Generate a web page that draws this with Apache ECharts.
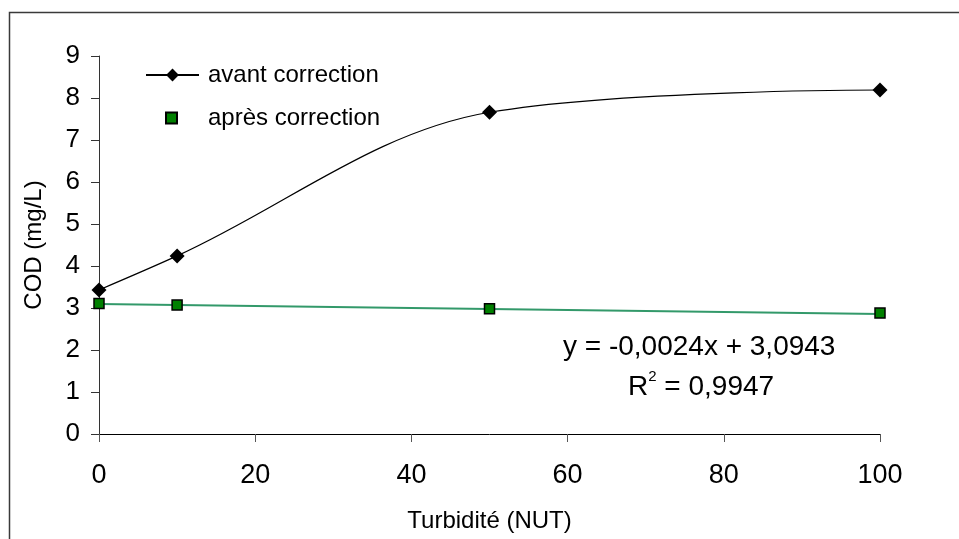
<!DOCTYPE html>
<html>
<head>
<meta charset="utf-8">
<script src="https://cdn.jsdelivr.net/npm/echarts@6/dist/echarts.min.js"></script>
<style>
  html, body { margin: 0; padding: 0; background: #fff; }
  #chart { width: 959px; height: 539px; }
</style>
</head>
<body>
<div id="chart"></div>
<script>
// Turbidity (NUT) levels
const turbidity = [0, 10, 50, 100];
// COD readings before and after turbidity correction (mg/L)
const codAvant = [3.43, 4.24, 7.66, 8.19];
const codApres = [3.11, 3.07, 2.98, 2.88];
// Linear fit of the corrected values
const fitSlope = -0.0024;
const fitIntercept = 3.0943;
const fitR2 = 0.9947;
const xTicks = [0, 20, 40, 60, 80, 100];
const yTicks = [0, 1, 2, 3, 4, 5, 6, 7, 8, 9];

const FONT = '"Liberation Sans", Arial, sans-serif';
const fmt = (v, d) => v.toFixed(d).replace('.', ',');

const fitX = [xTicks[0], xTicks[xTicks.length - 1]];
const fitLine = fitX.map(x => [x, fitIntercept + fitSlope * x]);

const chart = echarts.init(document.getElementById('chart'), null, { renderer: 'canvas' });

const legendFont = { fontFamily: FONT, fontSize: 24, color: '#000' };

chart.setOption({
  backgroundColor: '#fff',
  animation: false,
  textStyle: { fontFamily: FONT, color: '#000' },
  grid: { left: 99, right: 79, top: 56, bottom: 105, containLabel: false },
  legend: [
    {
      left: 140, top: 58,
      itemWidth: 53, itemHeight: 16,
      textStyle: Object.assign({ padding: [0, 0, 0, 4] }, legendFont),
      data: [{ name: 'avant correction' }]
    },
    {
      left: 160, top: 101,
      itemWidth: 11, itemHeight: 11,
      textStyle: Object.assign({ padding: [0, 0, 0, 26] }, legendFont),
      data: [{ name: 'après correction', icon: 'rect' }]
    }
  ],
  xAxis: {
    type: 'value',
    min: xTicks[0], max: xTicks[xTicks.length - 1], interval: 20,
    name: 'Turbidité (NUT)',
    nameLocation: 'middle',
    nameGap: 75,
    nameTextStyle: { fontFamily: FONT, fontSize: 24, color: '#000' },
    axisLine: { show: true, onZero: false, lineStyle: { color: '#000', width: 1 } },
    axisTick: { show: true, inside: false, length: 8, lineStyle: { color: '#555' } },
    axisLabel: { fontFamily: FONT, fontSize: 27, color: '#000', margin: 28 },
    splitLine: { show: false }
  },
  yAxis: {
    type: 'value',
    min: yTicks[0], max: yTicks[yTicks.length - 1], interval: 1,
    name: 'COD (mg/L)',
    nameLocation: 'middle',
    nameGap: 53,
    nameRotate: 90,
    nameTextStyle: { fontFamily: FONT, fontSize: 24, color: '#000' },
    axisLine: { show: true, onZero: false, lineStyle: { color: '#333', width: 1 } },
    axisTick: { show: true, inside: false, length: 8, lineStyle: { color: '#333' } },
    axisLabel: { fontFamily: FONT, fontSize: 26, color: '#000', margin: 19 },
    splitLine: { show: false }
  },
  graphic: [
    {
      type: 'rect', silent: true, z: -1,
      shape: { x: 9.5, y: 12.5, width: 1000, height: 600 },
      style: { fill: 'none', stroke: '#3a3a3a', lineWidth: 1.5 }
    },
    {
      type: 'text', left: 563, top: 333, silent: true,
      style: {
        text: 'y = ' + fmt(fitSlope, 4) + 'x + ' + fmt(fitIntercept, 4),
        font: '28px ' + FONT, fill: '#000'
      }
    },
    {
      type: 'text', left: 628, top: 369, silent: true,
      style: {
        text: '{r|R}{s|2}{r| = ' + fmt(fitR2, 4) + '}',
        font: '28px ' + FONT, fill: '#000',
        rich: {
          r: { fontSize: 28, fontFamily: FONT, lineHeight: 32, verticalAlign: 'bottom' },
          s: { fontSize: 15, fontFamily: FONT, lineHeight: 32, verticalAlign: 'top' }
        }
      }
    }
  ],
  series: [
    {
      name: 'avant correction',
      type: 'line',
      data: turbidity.map((x, i) => [x, codAvant[i]]),
      smooth: 0.35,
      symbol: 'diamond',
      symbolSize: 15,
      itemStyle: { color: '#000' },
      lineStyle: { color: '#000', width: 1.2 },
      z: 4
    },
    {
      name: 'fit',
      type: 'line',
      data: fitLine,
      symbol: 'none',
      lineStyle: { color: '#33996a', width: 2 },
      z: 2
    },
    {
      name: 'après correction',
      type: 'scatter',
      data: turbidity.map((x, i) => [x, codApres[i]]),
      symbol: 'rect',
      symbolSize: 10,
      itemStyle: { color: '#008000', borderColor: '#000', borderWidth: 1.5, opacity: 1 },
      z: 5
    }
  ]
});
</script>
</body>
</html>
